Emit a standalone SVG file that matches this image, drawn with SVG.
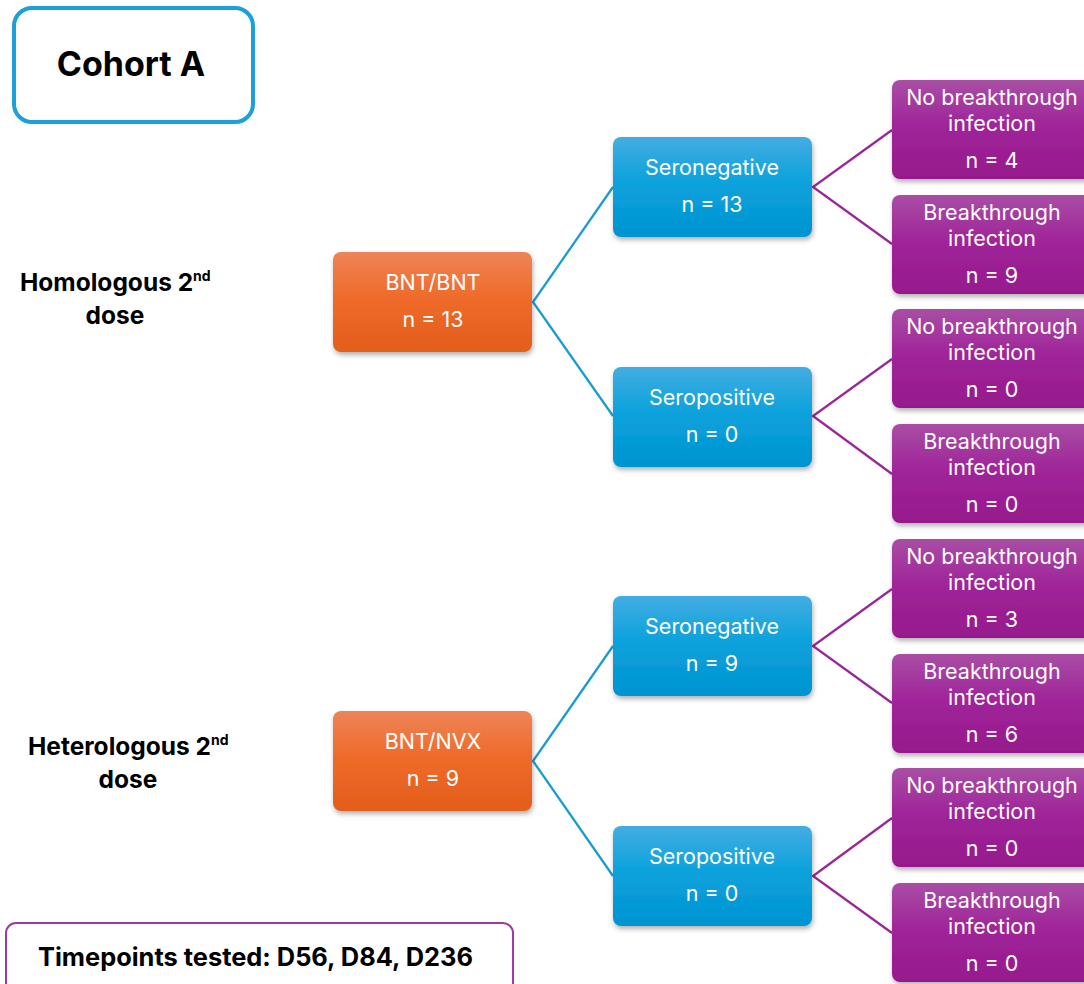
<svg xmlns="http://www.w3.org/2000/svg" width="1084" height="984" viewBox="0 0 1084 984">
  <defs>
    <linearGradient id="gOrange" x1="0" y1="0" x2="0" y2="1">
      <stop offset="0" stop-color="#ee8458"/>
      <stop offset="0.45" stop-color="#ef6b2a"/>
      <stop offset="1" stop-color="#e35d1b"/>
    </linearGradient>
    <linearGradient id="gBlue" x1="0" y1="0" x2="0" y2="1">
      <stop offset="0" stop-color="#43ade2"/>
      <stop offset="0.45" stop-color="#0ba2dc"/>
      <stop offset="1" stop-color="#0194d1"/>
    </linearGradient>
    <linearGradient id="gPurple" x1="0" y1="0" x2="0" y2="1">
      <stop offset="0" stop-color="#a94ea5"/>
      <stop offset="0.45" stop-color="#a0259a"/>
      <stop offset="1" stop-color="#96198c"/>
    </linearGradient>
    <filter id="shadow" x="-10%" y="-10%" width="125%" height="135%">
      <feDropShadow dx="1" dy="3" stdDeviation="2.5" flood-color="#000" flood-opacity="0.3"/>
    </filter>
  </defs>
  <style>
    .lbl { font-family: Inter, "Liberation Sans", sans-serif; font-size: 21.5px; fill: #ffffff; text-anchor: middle; }
    .bold { font-family: Inter, "Liberation Sans", sans-serif; font-weight: bold; fill: #000000; }
    .orange { fill: url(#gOrange); filter: url(#shadow); }
    .blue { fill: url(#gBlue); filter: url(#shadow); }
    .purple { fill: url(#gPurple); filter: url(#shadow); }
    .cb { stroke: #1b9dd2; stroke-width: 2.3; fill: none; }
    .cp { stroke: #9a2796; stroke-width: 2.3; fill: none; }
  </style>

  <rect width="1084" height="984" fill="#ffffff"/>

  <!-- title -->
  <g id="title">
    <rect x="14" y="8" width="239" height="114" rx="18" fill="#ffffff" stroke="#1ba1d8" stroke-width="4"/>
    <text x="131" y="76" class="bold" font-size="34" text-anchor="middle">Cohort A</text>
  </g>

  <!-- row labels -->
  <g id="label-homologous">
    <text x="20" y="291" class="bold" font-size="24.5">Homologous 2<tspan font-size="14" dy="-10">nd</tspan></text>
    <text x="115" y="324" class="bold" font-size="24.5" text-anchor="middle">dose</text>
  </g>
  <g id="label-heterologous">
    <text x="28" y="755" class="bold" font-size="24.5">Heterologous 2<tspan font-size="14" dy="-10">nd</tspan></text>
    <text x="128" y="788" class="bold" font-size="24.5" text-anchor="middle">dose</text>
  </g>

  <!-- connectors -->
  <g id="connectors">
    <polyline class="cb" points="613,187 533,302 613,416"/>
    <polyline class="cb" points="613,646 533,761 613,876"/>
    <polyline class="cp" points="892,130 813,187 892,244"/>
    <polyline class="cp" points="892,359 813,416 892,474"/>
    <polyline class="cp" points="892,589 813,646 892,703"/>
    <polyline class="cp" points="892,818 813,876 892,933"/>
  </g>

  <!-- vaccine groups -->
  <g id="bnt-bnt">
    <rect x="333" y="252" width="199" height="100" rx="8" class="orange"/>
    <text x="433" y="290" class="lbl">BNT/BNT</text>
    <text x="433" y="327" class="lbl">n = 13</text>
  </g>
  <g id="bnt-nvx">
    <rect x="333" y="711" width="199" height="100" rx="8" class="orange"/>
    <text x="433" y="749" class="lbl">BNT/NVX</text>
    <text x="433" y="786" class="lbl">n = 9</text>
  </g>

  <!-- serostatus -->
  <g id="seroneg-1">
    <rect x="613" y="137" width="199" height="100" rx="8" class="blue"/>
    <text x="712" y="175" class="lbl">Seronegative</text>
    <text x="712" y="212" class="lbl">n = 13</text>
  </g>
  <g id="seropos-1">
    <rect x="613" y="367" width="199" height="100" rx="8" class="blue"/>
    <text x="712" y="405" class="lbl">Seropositive</text>
    <text x="712" y="442" class="lbl">n = 0</text>
  </g>
  <g id="seroneg-2">
    <rect x="613" y="596" width="199" height="100" rx="8" class="blue"/>
    <text x="712" y="634" class="lbl">Seronegative</text>
    <text x="712" y="671" class="lbl">n = 9</text>
  </g>
  <g id="seropos-2">
    <rect x="613" y="826" width="199" height="100" rx="8" class="blue"/>
    <text x="712" y="864" class="lbl">Seropositive</text>
    <text x="712" y="901" class="lbl">n = 0</text>
  </g>

  <!-- outcomes -->
  <g id="out-1a">
    <rect x="892" y="80" width="200" height="99" rx="8" class="purple"/>
    <text x="992" y="105" class="lbl">No breakthrough</text>
    <text x="992" y="131" class="lbl">infection</text>
    <text x="992" y="168" class="lbl">n = 4</text>
  </g>
  <g id="out-1b">
    <rect x="892" y="195" width="200" height="99" rx="8" class="purple"/>
    <text x="992" y="220" class="lbl">Breakthrough</text>
    <text x="992" y="246" class="lbl">infection</text>
    <text x="992" y="283" class="lbl">n = 9</text>
  </g>
  <g id="out-2a">
    <rect x="892" y="309" width="200" height="99" rx="8" class="purple"/>
    <text x="992" y="334" class="lbl">No breakthrough</text>
    <text x="992" y="360" class="lbl">infection</text>
    <text x="992" y="397" class="lbl">n = 0</text>
  </g>
  <g id="out-2b">
    <rect x="892" y="424" width="200" height="99" rx="8" class="purple"/>
    <text x="992" y="449" class="lbl">Breakthrough</text>
    <text x="992" y="475" class="lbl">infection</text>
    <text x="992" y="512" class="lbl">n = 0</text>
  </g>
  <g id="out-3a">
    <rect x="892" y="539" width="200" height="99" rx="8" class="purple"/>
    <text x="992" y="564" class="lbl">No breakthrough</text>
    <text x="992" y="590" class="lbl">infection</text>
    <text x="992" y="627" class="lbl">n = 3</text>
  </g>
  <g id="out-3b">
    <rect x="892" y="654" width="200" height="99" rx="8" class="purple"/>
    <text x="992" y="679" class="lbl">Breakthrough</text>
    <text x="992" y="705" class="lbl">infection</text>
    <text x="992" y="742" class="lbl">n = 6</text>
  </g>
  <g id="out-4a">
    <rect x="892" y="768" width="200" height="99" rx="8" class="purple"/>
    <text x="992" y="793" class="lbl">No breakthrough</text>
    <text x="992" y="819" class="lbl">infection</text>
    <text x="992" y="856" class="lbl">n = 0</text>
  </g>
  <g id="out-4b">
    <rect x="892" y="883" width="200" height="99" rx="8" class="purple"/>
    <text x="992" y="908" class="lbl">Breakthrough</text>
    <text x="992" y="934" class="lbl">infection</text>
    <text x="992" y="971" class="lbl">n = 0</text>
  </g>

  <!-- footer -->
  <g id="timepoints">
    <rect x="6" y="923" width="507" height="70" rx="10" fill="#ffffff" stroke="#a03a9c" stroke-width="2"/>
    <text x="38" y="966" class="bold" font-size="25.4">Timepoints tested: D56, D84, D236</text>
  </g>
</svg>
